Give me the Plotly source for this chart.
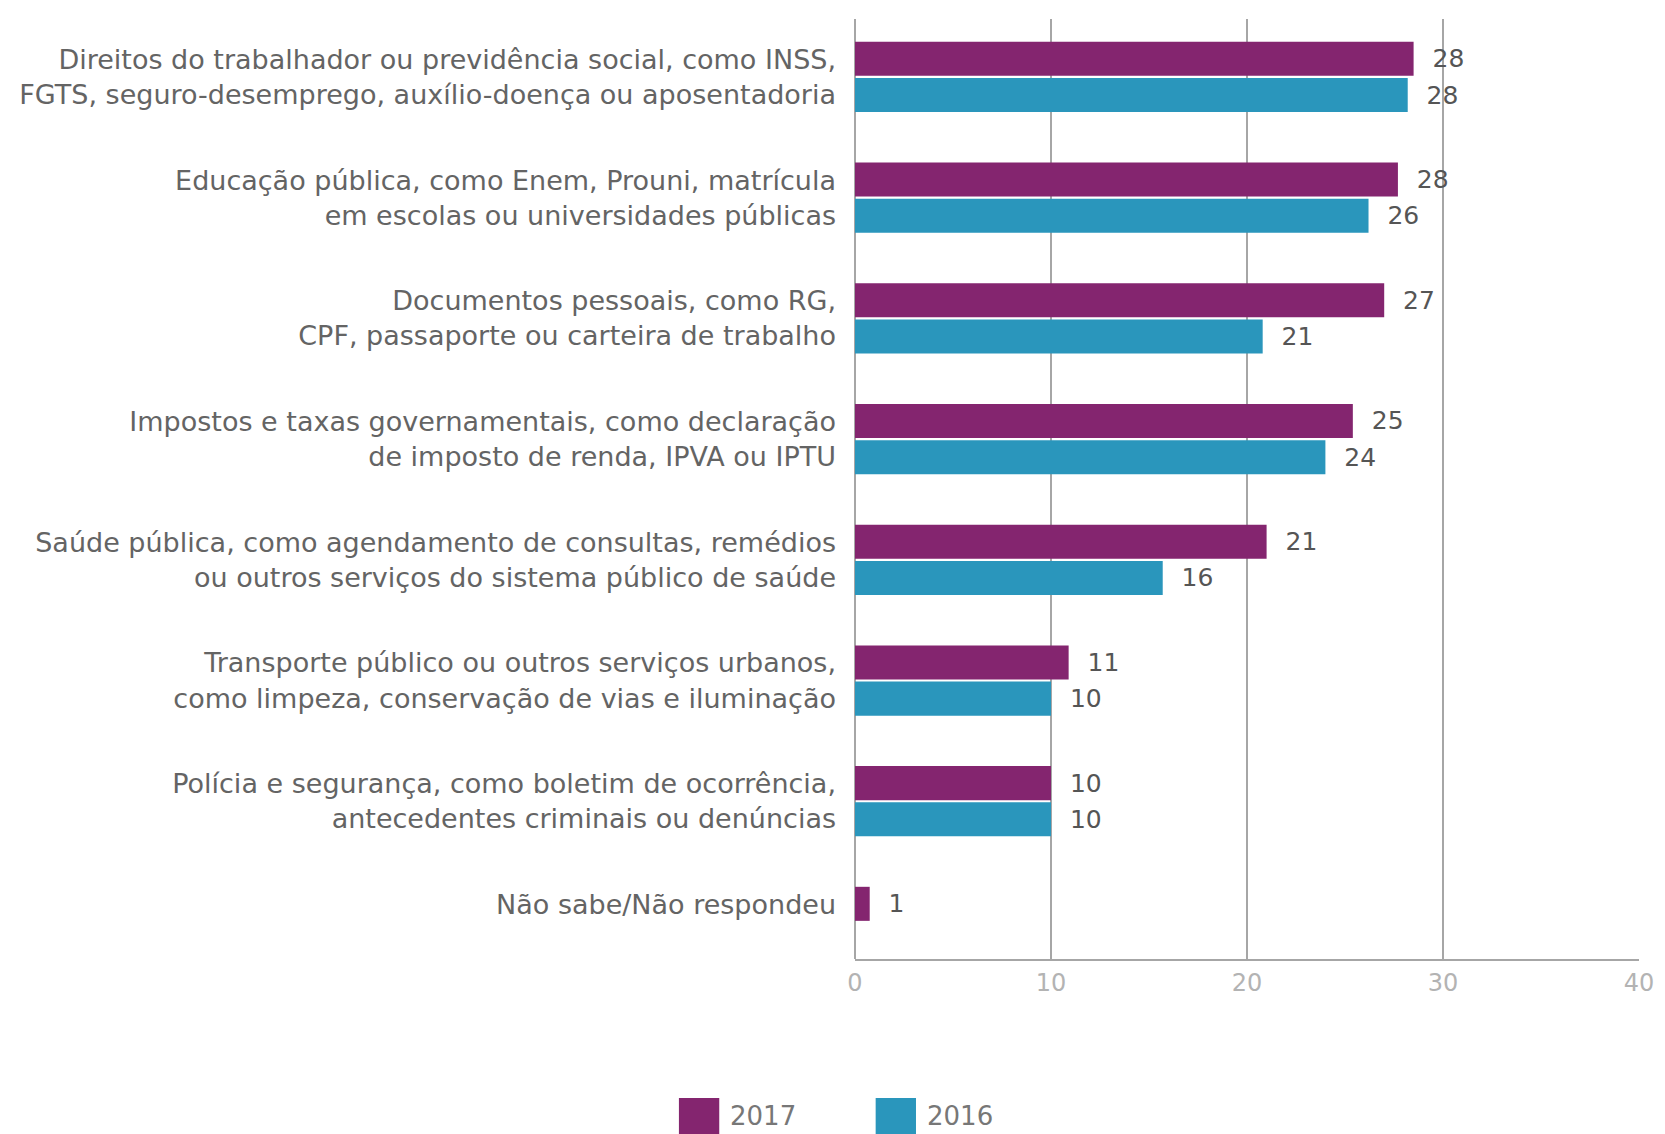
import plotly.graph_objects as go

categories = [
    "Direitos do trabalhador ou previdência social, como INSS,<br>FGTS, seguro-desemprego, auxílio-doença ou aposentadoria",
    "Educação pública, como Enem, Prouni, matrícula<br>em escolas ou universidades públicas",
    "Documentos pessoais, como RG,<br>CPF, passaporte ou carteira de trabalho",
    "Impostos e taxas governamentais, como declaração<br>de imposto de renda, IPVA ou IPTU",
    "Saúde pública, como agendamento de consultas, remédios<br>ou outros serviços do sistema público de saúde",
    "Transporte público ou outros serviços urbanos,<br>como limpeza, conservação de vias e iluminação",
    "Polícia e segurança, como boletim de ocorrência,<br>antecedentes criminais ou denúncias",
    "Não sabe/Não respondeu",
]
values_2017 = [28.5, 27.7, 27.0, 25.4, 21.0, 10.9, 10.0, 0.75]
values_2016 = [28.2, 26.2, 20.8, 24.0, 15.7, 10.0, 10.0, None]
labels_2017 = ["28", "28", "27", "25", "21", "11", "10", "1"]
labels_2016 = ["28", "26", "21", "24", "16", "10", "10", ""]
x_ticks = [0, 10, 20, 30, 40]
series_names = ["2017", "2016"]

PURPLE = "#84256F"
TEAL = "#2A96BC"
FONT = "DejaVu Sans"

# page body adds an 8px offset; the figure is sized to fill the rest of the window
OFF = 8
W, H = 1665 - OFF, 1134 - OFF
L, R, T, B = 851 - OFF, 17, 19 - OFF, 175
PW, PH = W - L - R, H - T - B


def px_x(p):
    return (p - OFF - L) / PW


def px_y(p):
    return (H - B - (p - OFF)) / PH


# tick text: single-line label is lifted to sit beside its lone bar
tick_text = [c if "<br>" in c else c + "<br>\u00a0" for c in categories]

pad = "\u00a0\u00a0"
fig = go.Figure()
for name, vals, labs, col in [
    (series_names[0], values_2017, labels_2017, PURPLE),
    (series_names[1], values_2016, labels_2016, TEAL),
]:
    fig.add_trace(go.Bar(
        name=name, y=categories, x=vals, orientation="h",
        marker=dict(color=col, line=dict(width=0)),
        text=[pad + t if t else "" for t in labs],
        textposition="outside", constraintext="none", cliponaxis=False,
        outsidetextfont=dict(family=FONT, size=25, color="#555555"),
        showlegend=False,
    ))

fig.update_layout(
    width=W, height=H,
    margin=dict(l=L, r=R, t=T, b=B, pad=0),
    paper_bgcolor="white", plot_bgcolor="white",
    barmode="group", bargap=0.40, bargroupgap=0.06,
    font=dict(family=FONT, color="#666666"),
    xaxis=dict(
        range=[0, 40], tickvals=x_ticks, ticktext=[str(v) for v in x_ticks],
        showgrid=True, gridcolor="#a6a6a6", gridwidth=1.5,
        zeroline=True, zerolinecolor="#a6a6a6", zerolinewidth=1.5,
        showline=True, linecolor="#a6a6a6", linewidth=1.5,
        tickfont=dict(family=FONT, size=24, color="#b3b3b3"),
        ticks="", ticklabelstandoff=1,
    ),
    yaxis=dict(
        type="category", categoryorder="array", categoryarray=categories,
        tickvals=categories, ticktext=tick_text,
        range=[7.307, -0.48],
        showgrid=False, zeroline=False, showline=False,
        tickfont=dict(family=FONT, size=27, color="#646464"),
        ticks="", ticklabelstandoff=18,
    ),
)

# custom legend (large square swatches), positions in window pixels
for name, col, x0 in [(series_names[0], PURPLE, 672), (series_names[1], TEAL, 872)]:
    fig.add_shape(type="rect", xref="paper", yref="paper",
                  x0=px_x(x0), x1=px_x(x0 + 41), y0=px_y(1098), y1=px_y(1139),
                  fillcolor=col, line=dict(width=0), layer="above")
    fig.add_annotation(xref="paper", yref="paper", x=px_x(x0 + 50), y=px_y(1116),
                       text=name, showarrow=False, xanchor="left", yanchor="middle",
                       font=dict(family=FONT, size=26, color="#777777"))

fig.write_html("out.html")
